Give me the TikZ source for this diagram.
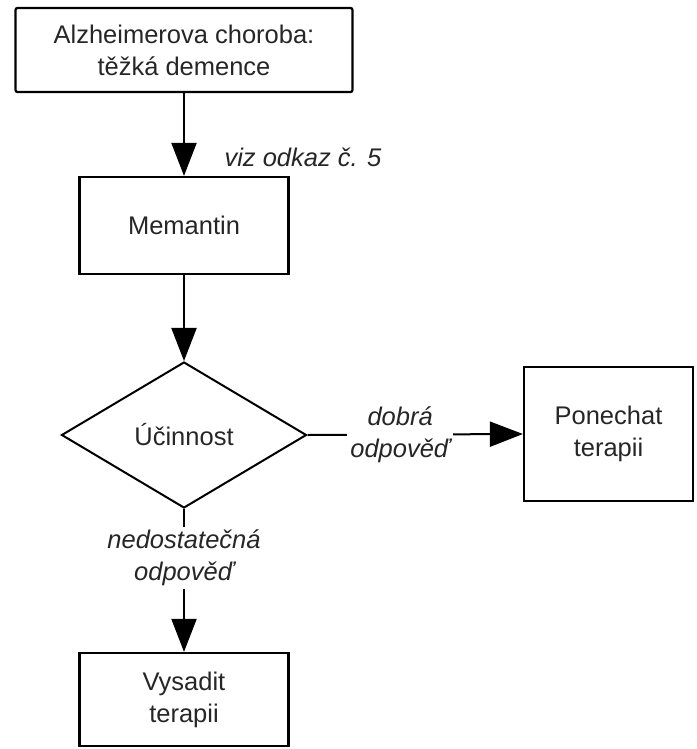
\documentclass[tikz,border=0pt]{standalone}
\usepackage{fontspec}
\setmainfont{Liberation Sans}
\usetikzlibrary{shapes.geometric,arrows.meta}
\newcommand\chartfont{\fontsize{25.5}{32}\selectfont}

\begin{document}
\begin{tikzpicture}
	[x=1pt,y=-1pt,
	box/.style={rectangle,draw,line width=2.2pt,align=center,inner sep=0pt},
	decision/.style={diamond,draw,line width=2pt,minimum width=245pt,minimum height=146pt,inner sep=0pt},
	flow/.style={line width=2pt,-{Triangle[length=33pt,width=25pt]}},
	answer/.style={font=\chartfont\itshape,align=center,fill=white,inner sep=3pt},
	every node/.style={font=\chartfont,text=black!85},]
	\useasboundingbox (0,0) rectangle (696,749);
	\node[box,name=alz,rounded corners=2pt,minimum width=337pt,minimum height=84pt] at (184,50) {Alzheimerova choroba:\\těžká demence};
	\node[box,name=mem,minimum width=209pt,minimum height=97pt] at (184,225.5) {Memantin};
	\node[decision,name=ucin] at (184,435) {Účinnost};
	\node[box,name=pon,minimum width=169pt,minimum height=134pt] at (608.5,434) {Ponechat\\terapii};
	\node[box,name=vys,minimum width=209pt,minimum height=93pt] at (184,699.5) {Vysadit\\terapii};
	% spojnice
	\draw[flow] (alz) -- (mem);
	\node[answer,name=odkaz,fill=none] at (303,157) {viz odkaz č. 5};
	\draw[flow] (mem) -- (ucin);
	\draw[flow] (ucin.east) -- node[answer,name=dobra,pos=0.43] {dobrá\\odpověď} (pon.west);
	\draw[flow] (ucin) -- node[answer,name=nedo,pos=0.34] {nedostatečná\\odpověď} (vys);
\end{tikzpicture}
\end{document}
